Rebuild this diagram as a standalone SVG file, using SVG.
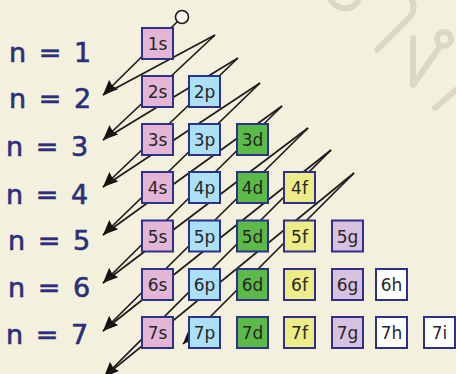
<svg xmlns="http://www.w3.org/2000/svg" width="456" height="374" viewBox="0 0 456 374">
<defs>
<style>
.bg{fill:#f4f0de}
.wm{fill:none;stroke:#dcd8c4;stroke-width:6;stroke-linecap:round;stroke-linejoin:round}
.ln{fill:none;stroke:#1c1c1c;stroke-width:1.7}
.bx{stroke:#2e3188;stroke-width:2}
.s{fill:#e4b6d6}.p{fill:#ace0f7}.d{fill:#5cba48}.f{fill:#edec88}.g{fill:#d8c0e1}.w{fill:#ffffff}
.bt{font-family:"DejaVu Sans",sans-serif;font-size:17px;fill:#262626;text-anchor:middle}
.nl{font-family:"DejaVu Sans",sans-serif;font-size:27px;fill:#2b2e78;stroke:#2b2e78;stroke-width:0.6;word-spacing:4px}
</style>
<marker id="ah" markerUnits="userSpaceOnUse" markerWidth="18" markerHeight="16" refX="15" refY="6.5" orient="auto">
<path d="M0,0 L15,6.5 L0,13 L2,6.5 z" fill="#111"/>
</marker>
</defs>
<rect class="bg" x="0" y="0" width="456" height="374"/>
<g id="watermark">
<path class="wm" d="M331,0 C336,10 352,12 358,1"/>
<path class="wm" d="M377,50 L410,17 Q416,9 412,0"/>
<path class="wm" d="M413,38 L413,85 L439,48"/>
<circle class="wm" cx="444" cy="39" r="7"/>
<path class="wm" d="M456,90 L435,108"/>
</g>
<g id="labels">
<text class="nl" x="9" y="62">n = 1</text>
<text class="nl" x="9" y="108">n = 2</text>
<text class="nl" x="6" y="156">n = 3</text>
<text class="nl" x="6" y="204">n = 4</text>
<text class="nl" x="8" y="250">n = 5</text>
<text class="nl" x="8" y="297">n = 6</text>
<text class="nl" x="6" y="344">n = 7</text>
</g>
<g id="connectors">
<circle cx="182" cy="17" r="6.5" fill="#fbf9f0" stroke="#1c1c1c" stroke-width="1.6"/>
<line class="ln" x1="177.5" y1="21.5" x2="103" y2="95" marker-end="url(#ah)"/>
<line class="ln" x1="103" y1="95" x2="215" y2="35"/>
<line class="ln" x1="215" y1="35" x2="103" y2="140" marker-end="url(#ah)"/>
<line class="ln" x1="103" y1="140" x2="238" y2="58"/>
<line class="ln" x1="238" y1="58" x2="103" y2="187" marker-end="url(#ah)"/>
<line class="ln" x1="103" y1="187" x2="260" y2="83"/>
<line class="ln" x1="260" y1="83" x2="103" y2="235" marker-end="url(#ah)"/>
<line class="ln" x1="103" y1="235" x2="282" y2="106"/>
<line class="ln" x1="282" y1="106" x2="103" y2="283" marker-end="url(#ah)"/>
<line class="ln" x1="103" y1="283" x2="308" y2="128"/>
<line class="ln" x1="308" y1="128" x2="103" y2="331" marker-end="url(#ah)"/>
<line class="ln" x1="103" y1="331" x2="331" y2="150"/>
<line class="ln" x1="331" y1="150" x2="104" y2="377" marker-end="url(#ah)"/>
<line class="ln" x1="104" y1="377" x2="354" y2="173"/>
<line class="ln" x1="354" y1="173" x2="183" y2="344" marker-end="url(#ah)"/>
</g>
<g id="n1"><rect class="bx s" x="142" y="28" width="31" height="31"/><text class="bt" x="157.5" y="50">1s</text></g>
<g id="n2s"><rect class="bx s" x="142" y="76" width="31" height="31"/><text class="bt" x="157.5" y="98">2s</text></g>
<g id="n2p"><rect class="bx p" x="189" y="76" width="31" height="31"/><text class="bt" x="204.5" y="98">2p</text></g>
<g id="n3s"><rect class="bx s" x="142" y="124" width="31" height="31"/><text class="bt" x="157.5" y="146">3s</text></g>
<g id="n3p"><rect class="bx p" x="189" y="124" width="31" height="31"/><text class="bt" x="204.5" y="146">3p</text></g>
<g id="n3d"><rect class="bx d" x="237" y="124" width="31" height="31"/><text class="bt" x="252.5" y="146">3d</text></g>
<g id="n4s"><rect class="bx s" x="142" y="172" width="31" height="31"/><text class="bt" x="157.5" y="194">4s</text></g>
<g id="n4p"><rect class="bx p" x="189" y="172" width="31" height="31"/><text class="bt" x="204.5" y="194">4p</text></g>
<g id="n4d"><rect class="bx d" x="237" y="172" width="31" height="31"/><text class="bt" x="252.5" y="194">4d</text></g>
<g id="n4f"><rect class="bx f" x="284" y="172" width="31" height="31"/><text class="bt" x="299.5" y="194">4f</text></g>
<g id="n5s"><rect class="bx s" x="142" y="220.5" width="31" height="31"/><text class="bt" x="157.5" y="242.5">5s</text></g>
<g id="n5p"><rect class="bx p" x="189" y="220.5" width="31" height="31"/><text class="bt" x="204.5" y="242.5">5p</text></g>
<g id="n5d"><rect class="bx d" x="237" y="220.5" width="31" height="31"/><text class="bt" x="252.5" y="242.5">5d</text></g>
<g id="n5f"><rect class="bx f" x="284" y="220.5" width="31" height="31"/><text class="bt" x="299.5" y="242.5">5f</text></g>
<g id="n5g"><rect class="bx g" x="332" y="220.5" width="31" height="31"/><text class="bt" x="347.5" y="242.5">5g</text></g>
<g id="n6s"><rect class="bx s" x="142" y="269" width="31" height="31"/><text class="bt" x="157.5" y="291">6s</text></g>
<g id="n6p"><rect class="bx p" x="189" y="269" width="31" height="31"/><text class="bt" x="204.5" y="291">6p</text></g>
<g id="n6d"><rect class="bx d" x="237" y="269" width="31" height="31"/><text class="bt" x="252.5" y="291">6d</text></g>
<g id="n6f"><rect class="bx f" x="284" y="269" width="31" height="31"/><text class="bt" x="299.5" y="291">6f</text></g>
<g id="n6g"><rect class="bx g" x="332" y="269" width="31" height="31"/><text class="bt" x="347.5" y="291">6g</text></g>
<g id="n6h"><rect class="bx w" x="376" y="269" width="31" height="31"/><text class="bt" x="391.5" y="291">6h</text></g>
<g id="n7s"><rect class="bx s" x="142" y="317" width="31" height="31"/><text class="bt" x="157.5" y="339">7s</text></g>
<g id="n7p"><rect class="bx p" x="189" y="317" width="31" height="31"/><text class="bt" x="204.5" y="339">7p</text></g>
<g id="n7d"><rect class="bx d" x="237" y="317" width="31" height="31"/><text class="bt" x="252.5" y="339">7d</text></g>
<g id="n7f"><rect class="bx f" x="284" y="317" width="31" height="31"/><text class="bt" x="299.5" y="339">7f</text></g>
<g id="n7g"><rect class="bx g" x="332" y="317" width="31" height="31"/><text class="bt" x="347.5" y="339">7g</text></g>
<g id="n7h"><rect class="bx w" x="376" y="317" width="31" height="31"/><text class="bt" x="391.5" y="339">7h</text></g>
<g id="n7i"><rect class="bx w" x="424" y="317" width="31" height="31"/><text class="bt" x="439.5" y="339">7i</text></g>
</svg>
